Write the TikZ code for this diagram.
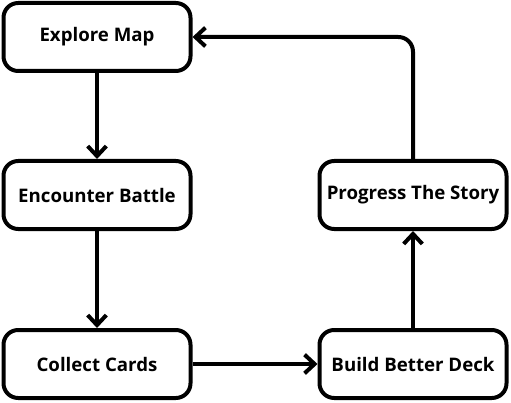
\documentclass[tikz,border=0pt]{standalone}
\usepackage{fontspec}
\setmainfont{Open Sans}
\usetikzlibrary{arrows.meta}
\begin{document}
\begin{tikzpicture}[x=0.75pt,y=-0.75pt,
  stepbox/.style={draw=black, line width=3pt, rounded corners=11pt, fill=white,
    minimum width=140.25pt, minimum height=51pt, inner sep=0pt,
    font=\fontsize{14}{17}\selectfont\bfseries},
  flow/.style={line width=3pt, -{Straight Barb[length=7.5pt,width=14pt,line width=3pt]}}]
\useasboundingbox (0,0) rectangle (511,403);
\node[stepbox] (explore) at (97,37) {Explore Map};
\node[stepbox] (battle) at (97,195) {Encounter Battle};
\node[stepbox] (collect) at (97,364) {Collect Cards};
\node[stepbox] (deck) at (413,364) {Build Better Deck};
\node[stepbox] (story) at (413,195) {Progress The Story};
\draw[flow] (explore) -- (battle);
\draw[flow] (battle) -- (collect);
\draw[flow] (collect) -- (deck);
\draw[flow] (deck) -- (story);
\draw[flow, rounded corners=11pt] (story.north) |- (explore.east);
\end{tikzpicture}
\end{document}
